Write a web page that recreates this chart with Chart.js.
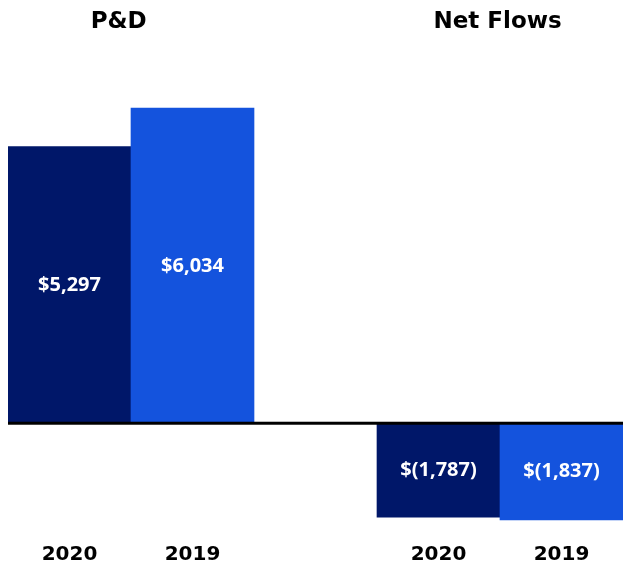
<!DOCTYPE html>
<html lang="en">
<head>
    <meta charset="UTF-8">
    <title>P&amp;D and Net Flows</title>
    <script src="https://cdn.jsdelivr.net/npm/chart.js"></script>
    <style>
        html, body { margin: 0; padding: 0; background: #fff; }
        #wrap { width: 623px; height: 567px; }
    </style>
</head>
<body>
    <div id="wrap"><canvas id="flows-chart"></canvas></div>

    <script>
        // data
        const years = ['2020', '2019', '', '2020', '2019'];
        const values = [5297, 6034, null, -1787, -1837];
        const groupTitles = ['P&D', 'Net Flows'];
        const groupCenters = [0.4, 3.48]; // category index where each title sits

        const barColors = ['#001769', '#1453DD', '#ffffff', '#001769', '#1453DD'];

        function money(v) {
            const s = Math.abs(v).toLocaleString('en-US');
            return v < 0 ? '$(' + s + ')' : '$' + s;
        }

        // value labels, titles and zero line
        const extras = {
            id: 'extras',
            afterDatasetsDraw(chart) {
                const ctx = chart.ctx;
                const x = chart.scales.x;
                const y = chart.scales.y;
                const zero = y.getPixelForValue(0);

                ctx.save();
                ctx.fillStyle = '#000';
                ctx.fillRect(chart.chartArea.left, zero - 2, chart.chartArea.right - chart.chartArea.left, 3);

                ctx.fillStyle = '#fff';
                ctx.font = 'bold 20px "Open Sans", sans-serif';
                ctx.textAlign = 'center';
                ctx.textBaseline = 'middle';
                chart.getDatasetMeta(0).data.forEach((bar, i) => {
                    if (values[i] === null) return;
                    ctx.fillText(money(values[i]), bar.x, (bar.y + bar.base) / 2);
                });

                ctx.fillStyle = '#000';
                ctx.font = 'bold 23px "DejaVu Sans", sans-serif';
                groupTitles.forEach((t, i) => {
                    ctx.fillText(t, x.getPixelForValue(groupCenters[i]), 22);
                });
                ctx.restore();
            }
        };

        new Chart(document.getElementById('flows-chart'), {
            type: 'bar',
            data: {
                labels: years,
                datasets: [{
                    data: values,
                    backgroundColor: barColors,
                    borderWidth: 0,
                    barPercentage: 1,
                    categoryPercentage: 1
                }]
            },
            options: {
                responsive: true,
                maintainAspectRatio: false,
                animation: false,
                layout: { padding: { top: 56, left: 8, right: 0, bottom: 0 } },
                plugins: {
                    legend: { display: false },
                    tooltip: { enabled: false }
                },
                scales: {
                    x: {
                        grid: { display: false, drawTicks: false },
                        border: { display: false },
                        ticks: {
                            color: '#000',
                            padding: 0,
                            font: { family: '"DejaVu Sans", sans-serif', size: 20, weight: 'bold' }
                        }
                    },
                    y: {
                        display: false,
                        min: -2280,
                        max: 7030
                    }
                }
            },
            plugins: [extras]
        });
    </script>
</body>
</html>
